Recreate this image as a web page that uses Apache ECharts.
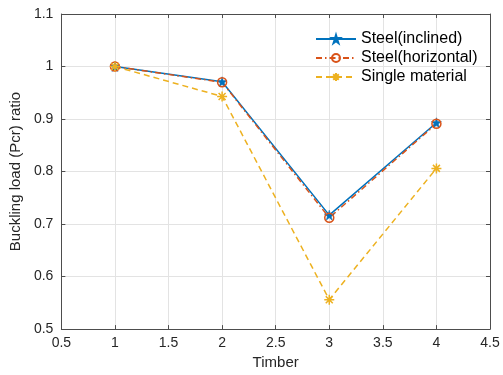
<!DOCTYPE html>
<html>
<head>
<meta charset="utf-8">
<script src="https://cdn.jsdelivr.net/npm/echarts@6/dist/echarts.min.js"></script>
<style>html,body{margin:0;padding:0;background:#fff;}#c{width:503px;height:375px;}</style>
</head>
<body>
<div id="c"></div>
<script>
const timber = [1, 2, 3, 4];
const steelInclined = [1.0, 0.971, 0.717, 0.893];
const steelHorizontal = [1.0, 0.970, 0.712, 0.891];
const singleMaterial = [1.0, 0.943, 0.556, 0.806];
const seriesNames = ['Steel(inclined)', 'Steel(horizontal)', 'Single material'];

const pair = (xs, ys) => xs.map((x, i) => [x, ys[i]]);
const starPath = 'path://M50,0 L61,35 L98,35 L68,57 L79,91 L50,70 L21,91 L32,57 L2,35 L39,35 Z';
const astPath = 'path://M50,0 L50,100 M0,50 L100,50 M15,15 L85,85 M85,15 L15,85';
const font = 'Liberation Sans, Arial, sans-serif';
const axisCol = '#4d4d4d';
const labelCol = '#262626';

const chart = echarts.init(document.getElementById('c'), null, {renderer: 'canvas'});
chart.setOption({
  animation: false,
  backgroundColor: '#fff',
  textStyle: {fontFamily: font},
  grid: {left: 56, right: 13, top: 14, bottom: 40, containLabel: false},
  legend: {
    orient: 'vertical', left: 310, top: 26, itemGap: 3,
    itemWidth: 40, itemHeight: 10,
    textStyle: {fontSize: 16, color: '#000', fontFamily: font},
    data: seriesNames
  },
  xAxis: [{
    type: 'value', min: 0.5, max: 4.5, interval: 0.5,
    name: 'Timber', nameLocation: 'middle', nameGap: 24,
    nameTextStyle: {fontSize: 15, color: labelCol, fontFamily: font},
    axisLine: {show: true, onZero: false, lineStyle: {color: axisCol}},
    axisTick: {show: true, inside: true, length: 4, lineStyle: {color: axisCol}},
    axisLabel: {fontSize: 14, color: labelCol, margin: 7, fontFamily: font},
    splitLine: {show: true, lineStyle: {color: '#e3e3e3'}}
  }, {
    type: 'value', position: 'top', min: 0.5, max: 4.5, interval: 0.5,
    axisLine: {show: true, onZero: false, lineStyle: {color: axisCol}},
    axisTick: {show: true, inside: true, length: 4, lineStyle: {color: axisCol}},
    axisLabel: {show: false}, splitLine: {show: false}
  }],
  yAxis: [{
    type: 'value', min: 0.5, max: 1.1, interval: 0.1,
    name: 'Buckling load (Pcr) ratio', nameLocation: 'middle', nameGap: 29,
    nameTextStyle: {fontSize: 15, color: labelCol, fontFamily: font},
    axisLine: {show: true, onZero: false, lineStyle: {color: axisCol}},
    axisTick: {show: true, inside: true, length: 4, lineStyle: {color: axisCol}},
    axisLabel: {fontSize: 14, color: labelCol, margin: 8, fontFamily: font,
      formatter: v => String(Math.round(v * 10) / 10)},
    splitLine: {show: true, lineStyle: {color: '#e3e3e3'}}
  }, {
    type: 'value', position: 'right', min: 0.5, max: 1.1, interval: 0.1,
    axisLine: {show: true, onZero: false, lineStyle: {color: axisCol}},
    axisTick: {show: true, inside: true, length: 4, lineStyle: {color: axisCol}},
    axisLabel: {show: false}, splitLine: {show: false}
  }],
  series: [{
    name: seriesNames[0], type: 'line', data: pair(timber, steelInclined),
    symbol: starPath, symbolSize: 10,
    lineStyle: {color: '#0072BD', width: 1.5, type: 'solid'},
    itemStyle: {color: '#0072BD', borderColor: '#0072BD', borderWidth: 0.5}
  }, {
    name: seriesNames[1], type: 'line', data: pair(timber, steelHorizontal),
    symbol: 'circle', symbolSize: 9,
    lineStyle: {color: '#D95319', width: 1.5, type: [6, 3, 1.5, 3]},
    itemStyle: {color: 'rgba(255,255,255,0)', borderColor: '#D95319', borderWidth: 1.5}
  }, {
    name: seriesNames[2], type: 'line', data: pair(timber, singleMaterial),
    symbol: astPath, symbolSize: 10,
    lineStyle: {color: '#EDB120', width: 1.5, type: [6, 4]},
    itemStyle: {color: '#EDB120', borderColor: '#EDB120', borderWidth: 1.5}
  }]
});
</script>
</body>
</html>
